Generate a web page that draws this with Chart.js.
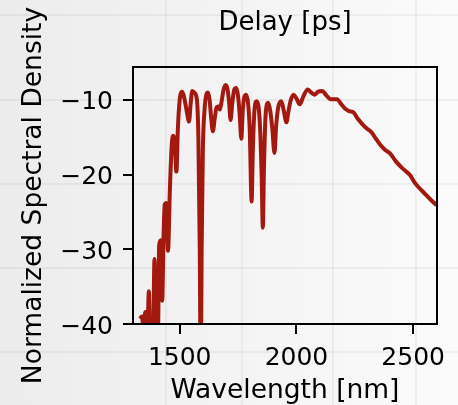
<!DOCTYPE html>
<html>
<head>
<meta charset="utf-8">
<script src="https://cdn.jsdelivr.net/npm/chart.js@4/dist/chart.umd.min.js"></script>
<style>
  html, body { margin: 0; padding: 0; }
  body { width: 458px; height: 405px; overflow: hidden; }
  #wrap { position: relative; width: 458px; height: 405px; }
</style>
</head>
<body>
<div id="wrap"><canvas id="psdChart" width="458" height="405"></canvas></div>
<script>
// wavelength [nm] and normalized PSD [dB]
const wavelength = [
  1330, 1338, 1345, 1353, 1360, 1368, 1374, 1382, 1387, 1392,
  1397, 1403, 1408, 1412, 1419, 1425, 1431, 1436, 1442, 1450,
  1458, 1466, 1473, 1478, 1486, 1492, 1500, 1511, 1520, 1530,
  1540, 1547, 1554, 1562, 1573, 1580, 1586, 1590, 1594, 1599,
  1606, 1614, 1621, 1628, 1635, 1642, 1650, 1658, 1668, 1672,
  1678, 1688, 1697, 1705, 1712, 1718, 1725, 1733, 1742, 1750,
  1757, 1764, 1770, 1777, 1785, 1793, 1800, 1808, 1813, 1820,
  1829, 1838, 1846, 1851, 1856, 1861, 1868, 1879, 1888, 1897,
  1906, 1913, 1922, 1935, 1946, 1957, 1966, 1976, 1988, 2000,
  2014, 2030, 2048, 2062, 2077, 2093, 2110, 2128, 2145, 2160,
  2174, 2190, 2209, 2225, 2245, 2262, 2281, 2300, 2323, 2340,
  2359, 2380, 2402, 2425, 2452, 2470, 2487, 2505, 2523, 2545,
  2570, 2600
];
const psd = [
  -39.3, -39.0, -40.5, -38.4, -43, -35.6, -44, -46, -41, -31.3,
  -40, -46, -40, -29.5, -28.8, -36.9, -28, -24, -23.8, -30.2,
  -22, -16, -14.8, -15.5, -19.6, -14, -10, -8.9, -9.8, -11.5,
  -12.9, -10.5, -8.8, -9, -9.8, -15, -30, -48, -30, -17,
  -11.5, -9.3, -9.0, -10, -12.5, -14.2, -12.5, -11, -10.9, -11.3,
  -10.5, -8.6, -8.0, -8.6, -10.5, -12.7, -10.5, -8.7, -8.4, -9.5,
  -12, -15.2, -11.5, -9.6, -9.3, -10.5, -14, -23.6, -17, -11.5,
  -10.2, -11, -15, -20, -27.1, -19, -12, -10.4, -11.5, -14,
  -17.1, -13.5, -11, -10.2, -11.5, -13.0, -11.5, -10, -9.3, -9.8,
  -10.6, -9.5, -8.6, -9, -9.3, -8.9, -8.8, -9.4, -9.9, -9.9,
  -9.9, -10.5, -11.2, -11.5, -11.7, -12.5, -13.2, -13.8, -14.4, -15.2,
  -16.0, -16.7, -17.2, -18.2, -19.1, -19.6, -20.1, -21, -21.7, -22.4,
  -23.2, -24.1
];

const xTicks = [1500, 2000, 2500];
const xTickLabels = ['1500', '2000', '2500'];
const yTicks = [-40, -30, -20, -10];
const yTickLabels = ['\u221240', '\u221230', '\u221220', '\u221210'];

const lineColor = '#a3190f';
const FONT = 'DejaVu Sans';

// faint backdrop (grey wash with a ghost grid), then the black axes box on top
const backdrop = {
  id: 'backdrop',
  beforeDraw(chart) {
    const ctx = chart.ctx;
    const w = chart.width, h = chart.height;
    ctx.save();
    let g = ctx.createLinearGradient(0, 0, w, 0);
    g.addColorStop(0, '#ececec');
    g.addColorStop(1, '#fbfbfb');
    ctx.fillStyle = g;
    ctx.fillRect(0, 0, w, h);
    ctx.strokeStyle = 'rgba(0,0,0,0.045)';
    ctx.lineWidth = 2;
    [15, 100, 184, 268, 352].forEach(y => {
      ctx.beginPath(); ctx.moveTo(0, y); ctx.lineTo(w, y); ctx.stroke();
    });
    [166, 242, 333, 416].forEach(x => {
      ctx.beginPath(); ctx.moveTo(x, 0); ctx.lineTo(x, h); ctx.stroke();
    });
    ctx.restore();
  },
  afterDatasetsDraw(chart) {
    const a = chart.chartArea;
    const ctx = chart.ctx;
    ctx.save();
    ctx.strokeStyle = '#000';
    ctx.lineWidth = 2;
    ctx.strokeRect(a.left, a.top, a.right - a.left, a.bottom - a.top);
    ctx.restore();
  }
};

new Chart(document.getElementById('psdChart'), {
  type: 'line',
  data: {
    datasets: [{
      data: wavelength.map((w, i) => ({ x: w, y: psd[i] })),
      borderColor: lineColor,
      borderWidth: 4,
      pointRadius: 0,
      cubicInterpolationMode: 'monotone',
      fill: false
    }]
  },
  options: {
    responsive: false,
    animation: false,
    devicePixelRatio: 1,
    layout: { padding: { left: 0, right: 21, top: 0, bottom: 0 } },
    plugins: { legend: { display: false }, tooltip: { enabled: false } },
    scales: {
      x: {
        type: 'linear',
        position: 'bottom',
        min: 1300,
        max: 2602,
        afterBuildTicks: axis => { axis.ticks = xTicks.map(v => ({ value: v })); },
        afterFit: axis => { axis.height = 81; },
        ticks: {
          color: '#000',
          font: { family: FONT, size: 25 },
          padding: 9,
          maxRotation: 0,
          autoSkip: false,
          callback: v => xTickLabels[xTicks.indexOf(v)]
        },
        grid: { drawOnChartArea: false, drawTicks: true, tickLength: 10, color: '#000', lineWidth: 2 },
        border: { display: false },
        title: {
          display: true,
          text: 'Wavelength [nm]',
          color: '#000',
          font: { family: FONT, size: 26.5, lineHeight: 1 },
          padding: { top: 0, bottom: 0.6 }
        }
      },
      xTop: {
        type: 'linear',
        position: 'top',
        min: 1300,
        max: 2602,
        afterFit: axis => { axis.height = 67; },
        ticks: { display: false },
        grid: { display: false },
        border: { display: false },
        title: {
          display: true,
          text: 'Delay [ps]',
          color: '#000',
          font: { family: FONT, size: 26, lineHeight: 1 },
          padding: { top: 10.6, bottom: 0 }
        }
      },
      y: {
        type: 'linear',
        min: -40,
        max: -5.6,
        afterBuildTicks: axis => { axis.ticks = yTicks.map(v => ({ value: v })); },
        afterFit: axis => { axis.width = 133; },
        ticks: {
          color: '#000',
          font: { family: FONT, size: 25 },
          padding: 10,
          labelOffset: 3,
          callback: v => yTickLabels[yTicks.indexOf(v)]
        },
        grid: { drawOnChartArea: false, drawTicks: true, tickLength: 10, color: '#000', lineWidth: 2 },
        border: { display: false },
        title: {
          display: true,
          text: 'Normalized Spectral Density',
          color: '#000',
          font: { family: FONT, size: 26.5, lineHeight: 1 },
          padding: { top: 20.5, bottom: 0 }
        }
      }
    }
  },
  plugins: [backdrop]
});
</script>
</body>
</html>
